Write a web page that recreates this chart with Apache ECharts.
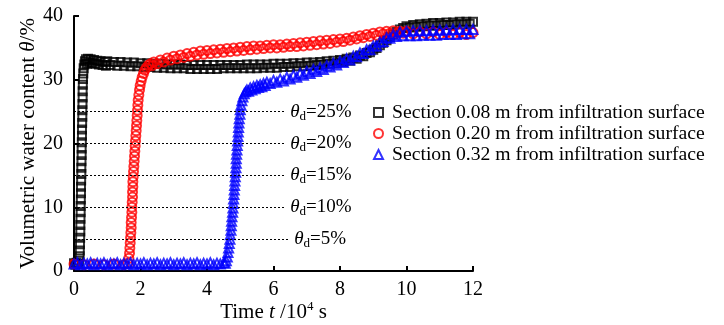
<!DOCTYPE html>
<html><head><meta charset="utf-8">
<script src="https://cdn.jsdelivr.net/npm/echarts@6/dist/echarts.min.js"></script>
<style>html,body{margin:0;padding:0;background:#fff}#c{width:724px;height:325px}</style>
</head><body><div id="c"></div>
<script>
const legendNames = ['Section 0.08 m from infiltration surface','Section 0.20 m from infiltration surface','Section 0.32 m from infiltration surface'];
const xTicks = [0,2,4,6,8,10,12];
const yTicks = [0,10,20,30,40];
const thresholds = [5,10,15,20,25];
const thresholdEnd = [6.47,6.35,6.35,6.35,6.35];

const s08 = [[0,1.2],[0.04,1.0],[0.08,1.3],[0.12,1.1],[0.15,1.6],[0.17,2.3],
[0.175,3.2],[0.18,4.2],[0.185,5.2],[0.19,6.2],[0.19,7.2],[0.195,8.2],[0.2,9.2],[0.2,10.2],[0.205,11.2],[0.21,12.2],[0.21,13.2],[0.215,14.2],[0.22,15.2],[0.22,16.2],[0.225,17.2],[0.23,18.2],[0.23,19.2],[0.235,20.2],[0.24,21.2],[0.24,22.2],[0.245,23.2],[0.25,24.2],[0.25,25.2],[0.255,26.2],[0.26,27.2],[0.26,28.2],[0.265,29.2],[0.27,30.1],[0.28,31],[0.29,31.8],[0.31,32.4],[0.33,32.9],[0.36,33.2],[0.39,32.5],[0.42,33.3],[0.46,32.7],[0.5,33.2],[0.55,32.6],[0.6,33.1],[0.65,32.5],[0.7,33.0],[0.75,32.4],[0.8,32.9],[0.86,32.3],[0.92,32.8],[0.96,32.2],
[1.0,32.9],[1.1,32.3],[1.2,32.8],[1.3,32.2],[1.4,32.8],[1.5,32.2],[1.6,32.7],[1.7,32.1],[1.8,32.7],[1.9,32.1],[2.0,32.6],[2.1,32.0],[2.2,32.6],[2.3,32.0],[2.4,32.5],[2.5,31.9],[2.6,32.5],[2.7,31.9],[2.8,32.4],[2.9,31.8],[3.0,32.4],[3.1,31.8],[3.2,32.4],[3.3,31.8],[3.4,32.3],[3.5,31.7],[3.6,32.3],[3.7,31.7],[3.8,32.3],[3.9,31.7],[4.0,32.3],[4.1,31.7],[4.2,32.3],[4.3,31.7],[4.4,32.3],[4.5,31.8],[4.6,32.3],[4.7,31.8],[4.8,32.3],[4.9,31.8],[5.0,32.3],[5.1,31.8],[5.2,32.4],[5.3,31.8],[5.4,32.4],[5.5,31.8],[5.6,32.4],[5.7,31.9],[5.8,32.4],[5.9,31.9],[6.0,32.5],[6.1,31.9],[6.2,32.5],[6.3,32.0],[6.4,32.5],[6.5,32.0],[6.6,32.6],[6.7,32.1],[6.8,32.6],[6.9,32.1],[7.0,32.7],[7.1,32.2],[7.2,32.7],[7.3,32.3],[7.4,32.8],[7.5,32.4],[7.6,32.9],[7.7,32.5],[7.8,33.0],[7.9,32.6],[8.0,33.1],[8.1,32.8],[8.2,33.3],[8.3,33.0],[8.4,33.5],[8.5,33.3],[8.6,33.8],[8.7,33.7],[8.8,34.2],[8.9,34.3],[9.0,34.7],[9.1,35.0],[9.2,35.4],[9.3,35.8],[9.4,36.2],[9.5,36.7],[9.6,37.1],[9.7,37.5],[9.8,37.9],[9.9,38.1],[10.0,38.4],[10.1,38.2],[10.2,38.6],[10.3,38.3],[10.4,38.7],[10.5,38.4],[10.6,38.8],[10.7,38.5],[10.8,38.9],[10.9,38.5],[11.0,38.9],[11.1,38.6],[11.2,39.0],[11.3,38.6],[11.4,39.0],[11.5,38.7],[11.6,39.1],[11.7,38.7],[11.8,39.1],[11.9,38.8],[12.0,39.1]];

const s20 = [[0,1.1],[0.3,1.0],[0.6,1.1],[0.9,1.0],[1.2,1.1],[1.5,1.0],[1.62,1.2],[1.65,2],[1.67,2.8],[1.68,3.6],[1.69,4.4],[1.7,5.2],[1.71,6],[1.72,6.8],[1.72,7.6],[1.73,8.4],[1.74,9.2],[1.74,10],[1.75,10.8],[1.76,11.6],[1.76,12.4],[1.77,13.2],[1.77,14],[1.78,14.8],[1.79,15.6],[1.8,16.4],[1.81,17.2],[1.82,18],[1.83,18.8],[1.84,19.6],[1.85,20.4],[1.86,21.2],[1.87,22],[1.88,22.8],[1.89,23.6],[1.9,24.4],[1.91,25.2],[1.92,26],[1.93,26.8],[1.95,27.6],[1.97,28.4],[1.99,29.1],[2.02,29.8],[2.05,30.4],[2.09,31],[2.13,31.5],[2.18,31.9],[2.24,32.3],[2.3,32.5],[2.35,32.2],
[2.4,32.8],[2.5,32.5],[2.6,33.1],[2.7,32.8],[2.8,33.4],[2.9,33.1],[3.0,33.7],[3.1,33.3],[3.2,33.9],[3.3,33.5],[3.4,34.1],[3.5,33.7],[3.6,34.3],[3.7,33.9],[3.8,34.5],[3.9,34.0],[4.0,34.6],[4.1,34.1],[4.2,34.7],[4.3,34.2],[4.4,34.8],[4.5,34.3],[4.6,34.9],[4.7,34.4],[4.8,35.0],[4.9,34.5],[5.0,35.1],[5.1,34.6],[5.2,35.2],[5.3,34.7],[5.4,35.3],[5.5,34.8],[5.6,35.3],[5.7,34.9],[5.8,35.4],[5.9,35.0],[6.0,35.5],[6.1,35.0],[6.2,35.5],[6.3,35.1],[6.4,35.6],[6.5,35.2],[6.6,35.7],[6.7,35.2],[6.8,35.8],[6.9,35.3],[7.0,35.9],[7.1,35.4],[7.2,36.0],[7.3,35.5],[7.4,36.1],[7.5,35.6],[7.6,36.2],[7.7,35.7],[7.8,36.3],[7.9,35.9],[8.0,36.4],[8.1,36.0],[8.2,36.5],[8.3,36.2],[8.4,36.7],[8.5,36.4],[8.6,36.9],[8.7,36.6],[8.8,37.1],[8.9,36.8],[9.0,37.3],[9.1,37.0],[9.2,37.5],[9.3,37.2],[9.4,37.6],[9.5,37.3],[9.6,37.7],[9.7,37.3],[9.8,37.6],[9.9,37.3],[10.0,37.6],[10.2,37.2],[10.4,37.5],[10.6,37.2],[10.8,37.5],[11.0,37.1],[11.2,37.4],[11.4,37.1],[11.6,37.4],[11.8,37.1],[12.0,37.4]];

const s32 = [[0,1.1],[0.1,1.3],[0.2,1.0],[0.3,1.2],[0.4,1.1],[0.5,1.3],[0.6,1.0],[0.7,1.2],[0.8,1.1],[0.9,1.3],[1.0,1.0],[1.1,1.2],[1.2,1.1],[1.3,1.3],[1.4,1.0],[1.5,1.2],[1.6,1.1],[1.7,1.3],[1.8,1.0],[1.9,1.2],[2.0,1.1],[2.1,1.3],[2.2,1.0],[2.3,1.2],[2.4,1.1],[2.5,1.3],[2.6,1.0],[2.7,1.2],[2.8,1.1],[2.9,1.3],[3.0,1.0],[3.1,1.2],[3.2,1.1],[3.3,1.3],[3.4,1.0],[3.5,1.2],[3.6,1.1],[3.7,1.3],[3.8,1.0],[3.9,1.2],[4.0,1.1],[4.1,1.3],[4.2,1.0],[4.3,1.2],[4.4,1.1],[4.5,1.3],[4.55,1.2],[4.58,1.6],[4.61,2.2],[4.63,2.9],[4.65,3.6],[4.67,4.3],[4.69,5],[4.7,5.7],[4.72,6.4],[4.73,7.1],[4.74,7.8],[4.75,8.5],[4.77,9.2],[4.78,9.9],[4.79,10.6],[4.8,11.3],[4.81,12],[4.82,12.7],[4.83,13.4],[4.84,14.1],[4.85,14.8],[4.86,15.5],[4.87,16.2],[4.88,16.9],[4.88,17.6],[4.89,18.3],[4.9,19],[4.91,19.7],[4.92,20.4],[4.93,21.1],[4.94,21.8],[4.95,22.5],[4.96,23.2],[4.97,23.9],[4.99,24.6],[5.0,25.3],[5.02,26],[5.05,26.7],[5.08,27.3],[5.12,27.8],[5.16,28.1],[5.2,28.4],[5.25,28.2],[5.3,28.7],[5.35,28.4],[5.4,28.9],[5.45,28.6],[5.5,29.1],[5.55,28.8],[5.6,29.2],[5.65,28.9],[5.7,29.4],[5.75,29.1],[5.8,29.6],[5.9,29.4],[6.0,29.9],[6.1,29.6],[6.2,30.1],[6.3,29.8],[6.4,30.4],[6.5,30.1],[6.6,30.7],[6.7,30.4],[6.8,31.0],[6.9,30.7],[7.0,31.3],[7.1,31.0],[7.2,31.6],[7.3,31.3],[7.4,31.9],[7.5,31.6],[7.6,32.2],[7.7,32.0],[7.8,32.6],[7.9,32.3],[8.0,32.9],[8.1,32.7],[8.2,33.3],[8.3,33.1],[8.4,33.7],[8.5,33.6],[8.6,34.2],[8.7,34.1],[8.8,34.7],[8.9,34.7],[9.0,35.3],[9.1,35.3],[9.2,35.9],[9.3,36.0],[9.4,36.6],[9.5,36.5],[9.6,37.1],[9.7,36.8],[9.8,37.5],[9.9,36.9],[10.0,37.6],[10.1,36.9],[10.2,37.7],[10.3,36.9],[10.4,37.7],[10.5,37.0],[10.6,37.7],[10.7,37.0],[10.8,37.8],[10.9,37.0],[11.0,37.8],[11.1,37.1],[11.2,37.8],[11.3,37.1],[11.4,37.9],[11.5,37.1],[11.6,37.9],[11.7,37.2],[11.8,37.9],[11.9,37.2],[12.0,37.9]];

const FONT = '"Liberation Serif","Times New Roman",serif';
const chart = echarts.init(document.getElementById('c'), null, {renderer:'canvas'});

const markLines = thresholds.map((v,i)=>[
  {coord:[0,v], label:{formatter:'{i|θ}{s|d}{a|=' + v + '%}'}},
  {coord:[thresholdEnd[i],v]}
]);

function mk(name, data, symbol, color, size){
  return {
    name, type:'scatter', data, symbol, symbolSize:size,
    itemStyle:{color:'rgba(255,255,255,0)', borderColor:color, borderWidth:2},
    emphasis:{disabled:true}, silent:true
  };
}
const series = [
  mk(legendNames[0], s08, 'rect', '#000000', 8),
  mk(legendNames[1], s20, 'circle', '#ff0000', 9),
  mk(legendNames[2], s32, 'triangle', '#0000ff', 9)
];
series[0].markLine = {
  silent:true, symbol:'none', animation:false,
  lineStyle:{color:'#000', type:[2,2], width:1},
  label:{show:true, position:'end', distance:5, color:'#000',
    rich:{
      i:{fontFamily:FONT, fontStyle:'italic', fontSize:19, lineHeight:22, color:'#000'},
      s:{fontFamily:FONT, fontSize:13, lineHeight:8, verticalAlign:'bottom', color:'#000'},
      a:{fontFamily:FONT, fontSize:19, lineHeight:22, color:'#000'}
    }},
  data: markLines
};

chart.setOption({
  animation:false,
  backgroundColor:'#fff',
  grid:{left:74, right:251, top:16, bottom:54, containLabel:false, outerBoundsMode:'none'},
  legend:{
    orient:'vertical', left:368, top:97, itemGap:0, itemWidth:9, itemHeight:9,
    textStyle:{fontFamily:FONT, fontSize:19.7, lineHeight:21, color:'#000', padding:[0,0,0,4]},
    itemStyle:{borderWidth:2},
    data: legendNames
  },
  xAxis:{
    type:'value', min:0, max:12, interval:2,
    axisLine:{lineStyle:{color:'#000', width:2}},
    axisTick:{inside:true, length:5, lineStyle:{color:'#000', width:2}},
    axisLabel:{fontFamily:FONT, fontSize:20, color:'#000', margin:9},
    splitLine:{show:false},
    name:'{a|Time }{i|t}{a| /10}{p|4}{a| s}', nameLocation:'middle', nameGap:29, nameMoveOverlap:false,
    nameTextStyle:{rich:{
      a:{fontFamily:FONT, fontSize:21, color:'#000', lineHeight:24},
      i:{fontFamily:FONT, fontSize:21, fontStyle:'italic', color:'#000', lineHeight:24},
      p:{fontFamily:FONT, fontSize:13, color:'#000', lineHeight:12, verticalAlign:'top'}
    }}
  },
  yAxis:{
    type:'value', min:0, max:40, interval:10,
    axisLine:{show:true, lineStyle:{color:'#000', width:2}},
    axisTick:{show:true, inside:true, length:5, lineStyle:{color:'#000', width:2}},
    axisLabel:{fontFamily:FONT, fontSize:20, color:'#000', margin:11},
    splitLine:{show:false},
    name:'{a|Volumetric water content }{i|θ}{a|/%}', nameLocation:'middle', nameGap:34, nameMoveOverlap:false,
    nameTextStyle:{rich:{
      a:{fontFamily:FONT, fontSize:21, color:'#000', lineHeight:24},
      i:{fontFamily:FONT, fontSize:21, fontStyle:'italic', color:'#000', lineHeight:24}
    }}
  },
  series
});
</script></body></html>
